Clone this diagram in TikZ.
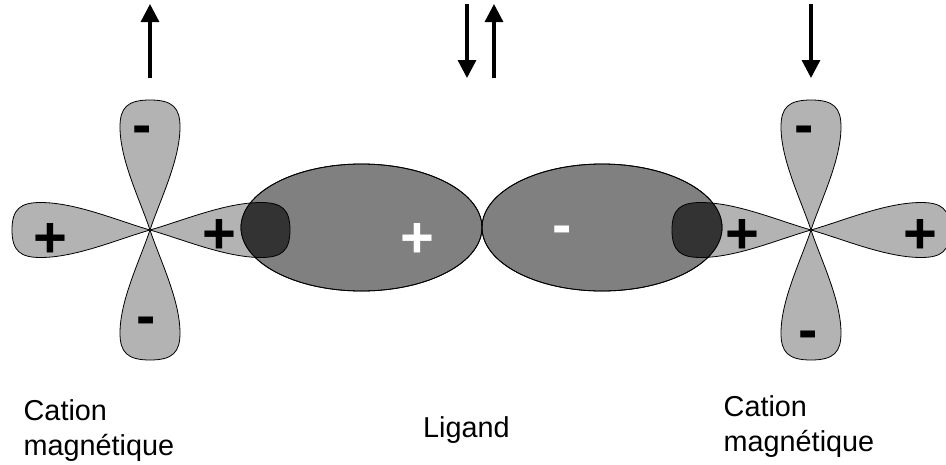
\documentclass[tikz,border=0pt]{standalone}
\usepackage{fontspec}
\setmainfont{Liberation Sans}
\usetikzlibrary{arrows.meta}
\definecolor{lobeg}{HTML}{B3B3B3}
\definecolor{ellg}{HTML}{808080}
\definecolor{darkg}{HTML}{333333}
\newcommand{\lobepath}[5]{% cx cy angle length halfwidth
  [shift={(#1,#2)},rotate=#3,x=#5pt/30,y=#4pt/130]
  (0,0) .. controls (-10,30) and (-30,70) .. (-30,103)
  .. controls (-30,122) and (-23,130) .. (0,130)
  .. controls (23,130) and (30,122) .. (30,103)
  .. controls (30,70) and (10,30) .. (0,0) -- cycle}
\tikzset{
  lobe/.style={fill=lobeg,draw=black,line width=0.8pt},
  ell/.style={fill=ellg,draw=black,line width=0.8pt},
  spin/.style={line width=3.3pt,-{Triangle[length=18pt,width=18pt]}},
  bigsign/.style={font=\bfseries\fontsize{58}{58}\selectfont,inner sep=0pt,text=black},
  wsign/.style={bigsign,text=white},
  lab/.style={font=\fontsize{28.8}{34.5}\selectfont,align=left,inner sep=0pt,anchor=base west}
}
\begin{document}
\begin{tikzpicture}[x=1pt,y=-1pt]
\useasboundingbox (0,0) rectangle (946,464);
% lobes
\foreach \cx/\cy/\ang/\len/\hw in {150/230/180/130/30,150/230/0/130/30,150/230/90/138/27.5,150/230/-90/140/27.5,
                                   811/230/180/130/30,811/230/0/130/30,811/230/90/139/27.5,811/230/-90/139/27.5}{
  \path[lobe] \lobepath{\cx}{\cy}{\ang}{\len}{\hw};
}
% ligand ellipses
\path[ell] (361.5,227.5) ellipse [x radius=120.5,y radius=63.5];
\path[ell] (602,227.5) ellipse [x radius=120,y radius=63.5];
% overlaps
\begin{scope}
  \clip (361.5,227.5) ellipse [x radius=120.5,y radius=63.5];
  \path[fill=darkg,draw=black,line width=0.8pt] \lobepath{150}{230}{-90}{140}{27.5};
\end{scope}
\begin{scope}
  \clip (602,227.5) ellipse [x radius=120,y radius=63.5];
  \path[fill=darkg,draw=black,line width=0.8pt] \lobepath{811}{230}{90}{139}{27.5};
\end{scope}
\draw[line width=0.8pt] (361.5,227.5) ellipse [x radius=120.5,y radius=63.5];
\draw[line width=0.8pt] (602,227.5) ellipse [x radius=120,y radius=63.5];
% signs
\node[bigsign] (s1) at (142,135) {-};
\node[bigsign] (s2) at (146,326) {-};
\node[bigsign] (s3) at (50,240) {+};
\node[bigsign] (s4) at (219,236) {+};
\node[wsign] (s5) at (417,240) {+};
\node[wsign] (s6) at (562,235) {-};
\node[bigsign] (s7) at (742,236) {+};
\node[bigsign] (s8) at (920,236) {+};
\node[bigsign] (s9) at (804,135) {-};
\node[bigsign] (s10) at (808,340) {-};
% spin arrows
\coordinate (a1s) at (150,78); \coordinate (a1e) at (150,4);
\coordinate (a2s) at (467,4);  \coordinate (a2e) at (467,78);
\coordinate (a3s) at (494,78); \coordinate (a3e) at (494,4);
\coordinate (a4s) at (811,4);  \coordinate (a4e) at (811,78);
\draw[spin] (a1s) -- (a1e);
\draw[spin] (a2s) -- (a2e);
\draw[spin] (a3s) -- (a3e);
\draw[spin] (a4s) -- (a4e);
% labels
\node[lab] (c1) at (23.5,455) {Cation\\magnétique};
\node[lab] (l) at (423,437.5) {Ligand};
\node[lab] (c2) at (723.5,451) {Cation\\magnétique};
\end{tikzpicture}
\end{document}
